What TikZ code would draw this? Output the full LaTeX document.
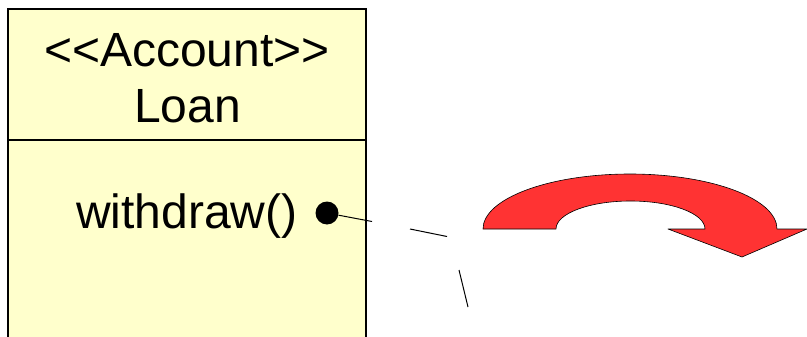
\documentclass[tikz,border=0pt]{standalone}
\usepackage{fontspec}
\setmainfont{Liberation Sans}
\definecolor{classfill}{HTML}{FFFFCC}
\definecolor{arrowred}{HTML}{FF3333}
\tikzset{
  classtext/.style={anchor=base, inner sep=0pt, font=\fontsize{48}{56}\selectfont},
  classedge/.style={draw=black, line width=2pt},
  linkline/.style={draw=black, line width=1pt},
  bigarrow/.style={fill=arrowred, draw=black, line width=0.6pt, line join=round}
}
\begin{document}
\begin{tikzpicture}[x=1pt,y=-1pt]
\useasboundingbox (0,0) rectangle (807,337);
% class box (open at the bottom, runs past the edge)
\coordinate (bl) at (8,340);
\coordinate (tl) at (8,9);
\coordinate (tr) at (366,9);
\coordinate (br) at (366,340);
\fill[classfill] (bl) rectangle (tr);
\draw[classedge] (bl) -- (tl) -- (tr) -- (br);
\coordinate (dl) at (8,140.5);
\coordinate (dr) at (366,140.5);
\draw[classedge] (dl) -- (dr);
\node[classtext] (stereo) at (187,67) {<{}<Account>{}>};
\node[classtext] (name) at (187.5,123) {Loan};
\node[classtext, anchor=base west] (op) at (76,228) {withdraw()};
% dot and broken connector
\node[circle, fill=black, minimum size=23pt, inner sep=0pt] (dot) at (327,213) {};
\coordinate (a1) at (372,221.5);
\coordinate (a2) at (410,229);
\coordinate (a3) at (447,236.5);
\coordinate (a4) at (459,270);
\coordinate (a5) at (468,307);
\draw[linkline] (dot) -- (a1);
\draw[linkline] (a2) -- (a3);
\draw[linkline] (a4) -- (a5);
% curved red arrow
\path[bigarrow] (483,229) arc[start angle=180, end angle=360, x radius=147, y radius=55]
  -- (807,229) -- (742,257) -- (668,229) -- (705,229)
  arc[start angle=360, end angle=180, x radius=74.5, y radius=28]
  -- cycle;
\end{tikzpicture}
\end{document}
